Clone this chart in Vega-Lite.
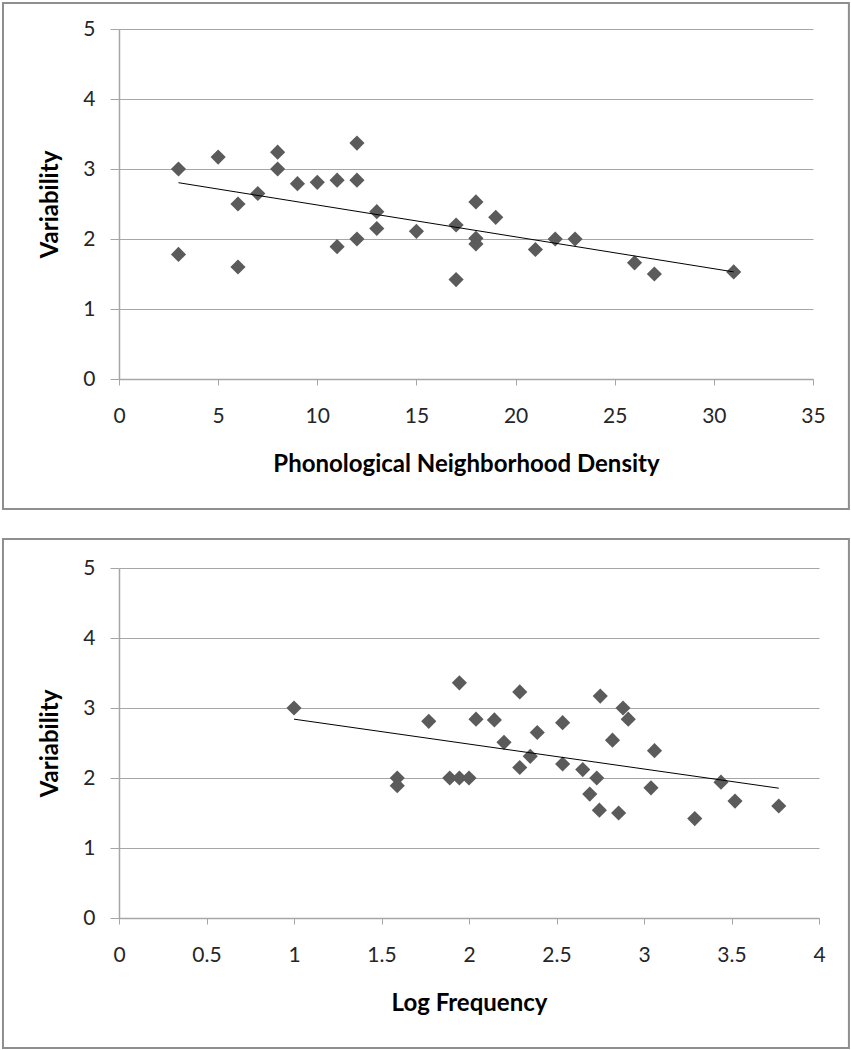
{
  "$schema": "https://vega.github.io/schema/vega-lite/v6.json",
  "padding": {"left": 1, "top": 2, "right": 2, "bottom": 2},
  "background": "white",
  "spacing": 28,
  "datasets": {
    "density": [
      {"nd": 3, "var": 3.0}, {"nd": 3, "var": 1.78}, {"nd": 5, "var": 3.17}, {"nd": 6, "var": 2.5},
      {"nd": 6, "var": 1.6}, {"nd": 7, "var": 2.65}, {"nd": 8, "var": 3.24}, {"nd": 8, "var": 3.0},
      {"nd": 9, "var": 2.79}, {"nd": 10, "var": 2.81}, {"nd": 11, "var": 2.84}, {"nd": 11, "var": 1.89},
      {"nd": 12, "var": 3.37}, {"nd": 12, "var": 2.84}, {"nd": 12, "var": 2.0}, {"nd": 13, "var": 2.39},
      {"nd": 13, "var": 2.15}, {"nd": 15, "var": 2.11}, {"nd": 17, "var": 2.2}, {"nd": 17, "var": 1.42},
      {"nd": 18, "var": 2.53}, {"nd": 18, "var": 2.01}, {"nd": 18, "var": 1.93}, {"nd": 19, "var": 2.31},
      {"nd": 21, "var": 1.85}, {"nd": 22, "var": 2.0}, {"nd": 23, "var": 2.0}, {"nd": 26, "var": 1.66},
      {"nd": 27, "var": 1.5}, {"nd": 31, "var": 1.53}
    ],
    "frequency": [
      {"lf": 1.0, "var": 3.0}, {"lf": 1.59, "var": 2.0}, {"lf": 1.59, "var": 1.89}, {"lf": 1.77, "var": 2.81},
      {"lf": 1.89, "var": 2.0}, {"lf": 1.945, "var": 3.36}, {"lf": 1.945, "var": 2.0}, {"lf": 2.0, "var": 2.0},
      {"lf": 2.04, "var": 2.84}, {"lf": 2.145, "var": 2.83}, {"lf": 2.2, "var": 2.51}, {"lf": 2.29, "var": 3.23},
      {"lf": 2.29, "var": 2.15}, {"lf": 2.35, "var": 2.31}, {"lf": 2.39, "var": 2.65}, {"lf": 2.535, "var": 2.79},
      {"lf": 2.535, "var": 2.2}, {"lf": 2.65, "var": 2.12}, {"lf": 2.69, "var": 1.77}, {"lf": 2.73, "var": 2.0},
      {"lf": 2.745, "var": 1.54}, {"lf": 2.75, "var": 3.17}, {"lf": 2.82, "var": 2.54}, {"lf": 2.855, "var": 1.5},
      {"lf": 2.88, "var": 3.0}, {"lf": 2.91, "var": 2.84}, {"lf": 3.04, "var": 1.86}, {"lf": 3.06, "var": 2.39},
      {"lf": 3.29, "var": 1.42}, {"lf": 3.44, "var": 1.94}, {"lf": 3.52, "var": 1.67}, {"lf": 3.77, "var": 1.6}
    ],
    "one": [{"k": 1}]
  },
  "vconcat": [
    {
      "width": 694,
      "height": 350,
      "layer": [
        {
          "data": {"name": "density"},
          "mark": {"type": "point", "shape": "diamond", "filled": true, "size": 230, "color": "#5b5b5b", "opacity": 1},
          "encoding": {
            "x": {"field": "nd", "type": "quantitative", "title": "Phonological Neighborhood Density",
                  "scale": {"domain": [0, 35], "nice": false, "zero": false},
                  "axis": {"values": [0, 5, 10, 15, 20, 25, 30, 35], "format": "d"}},
            "y": {"field": "var", "type": "quantitative", "title": "Variability",
                  "scale": {"domain": [0, 5], "nice": false},
                  "axis": {"values": [0, 1, 2, 3, 4, 5], "format": "d"}}
          }
        },
        {
          "data": {"name": "density"},
          "transform": [{"regression": "var", "on": "nd"}],
          "mark": {"type": "line", "color": "#000000", "strokeWidth": 1},
          "encoding": {
            "x": {"field": "nd", "type": "quantitative"},
            "y": {"field": "var", "type": "quantitative"}
          }
        },
        {
          "data": {"name": "one"},
          "mark": {"type": "rect", "fill": "transparent", "stroke": "#8e8e8e", "strokeWidth": 2, "clip": false},
          "encoding": {
            "x": {"datum": -5.85, "type": "quantitative"},
            "x2": {"datum": 36.81},
            "y": {"datum": 5.37, "type": "quantitative"},
            "y2": {"datum": -1.857}
          }
        }
      ]
    },
    {
      "width": 700,
      "height": 350,
      "layer": [
        {
          "data": {"name": "frequency"},
          "mark": {"type": "point", "shape": "diamond", "filled": true, "size": 230, "color": "#5b5b5b", "opacity": 1},
          "encoding": {
            "x": {"field": "lf", "type": "quantitative", "title": "Log Frequency",
                  "scale": {"domain": [0, 4], "nice": false, "zero": false},
                  "axis": {"values": [0, 0.5, 1, 1.5, 2, 2.5, 3, 3.5, 4], "format": "~g"}},
            "y": {"field": "var", "type": "quantitative", "title": "Variability",
                  "scale": {"domain": [0, 5], "nice": false},
                  "axis": {"values": [0, 1, 2, 3, 4, 5], "format": "d"}}
          }
        },
        {
          "data": {"name": "frequency"},
          "transform": [{"regression": "var", "on": "lf"}],
          "mark": {"type": "line", "color": "#000000", "strokeWidth": 1},
          "encoding": {
            "x": {"field": "lf", "type": "quantitative"},
            "y": {"field": "var", "type": "quantitative"}
          }
        },
        {
          "data": {"name": "one"},
          "mark": {"type": "rect", "fill": "transparent", "stroke": "#8e8e8e", "strokeWidth": 2, "clip": false},
          "encoding": {
            "x": {"datum": -0.663, "type": "quantitative"},
            "x2": {"datum": 4.171},
            "y": {"datum": 5.414, "type": "quantitative"},
            "y2": {"datum": -1.857}
          }
        }
      ]
    }
  ],
  "config": {
    "view": {"stroke": null},
    "axis": {
      "labelFont": "Lato", "titleFont": "Lato", "labelFontSize": 21, "titleFontSize": 24,
      "titleFontWeight": "bold", "labelColor": "#262626", "titleColor": "#000000",
      "gridColor": "#a6a6a6", "domainColor": "#a6a6a6", "tickColor": "#a6a6a6",
      "domainWidth": 1.5, "gridWidth": 1.2
    },
    "axisX": {"grid": false, "tickSize": 6, "labelPadding": 20, "titlePadding": 26, "labelFlush": false, "labelOverlap": false},
    "axisY": {"grid": true, "tickSize": 9, "labelPadding": 15, "titlePadding": 20, "labelFlush": false}
  }
}
